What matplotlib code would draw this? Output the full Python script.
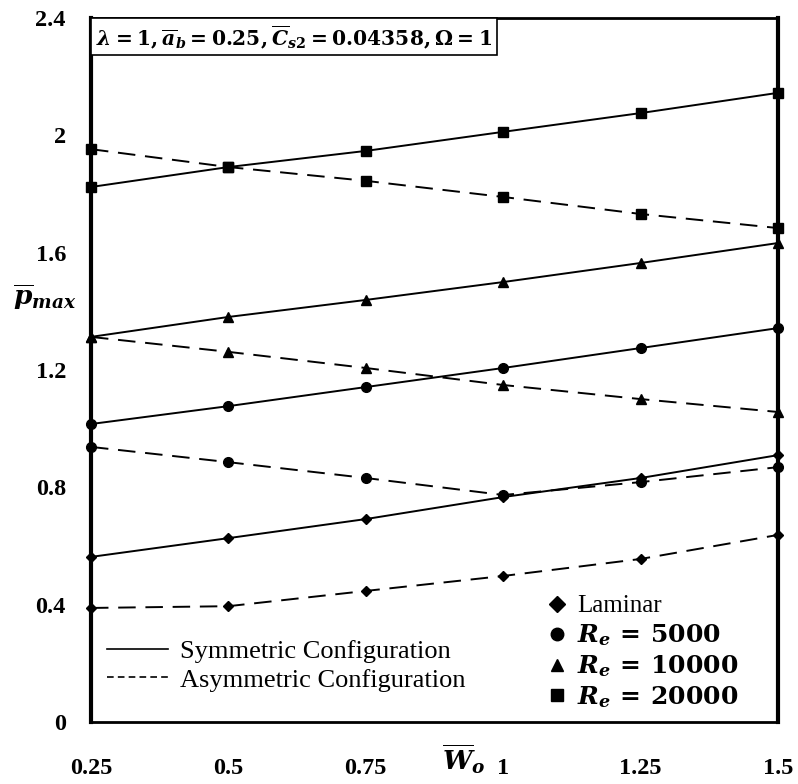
import matplotlib
matplotlib.use('Agg')
import matplotlib.pyplot as plt
from matplotlib.lines import Line2D
from matplotlib.patches import Rectangle

plt.rcParams['font.family'] = 'Liberation Serif'
plt.rcParams['mathtext.fontset'] = 'custom'
plt.rcParams['mathtext.rm'] = 'DejaVu Serif:bold'
plt.rcParams['mathtext.it'] = 'DejaVu Serif:bold:italic'
plt.rcParams['mathtext.bf'] = 'DejaVu Serif:bold'

# orifice width values
w_o = [0.25, 0.5, 0.75, 1.0, 1.25, 1.5]

# maximum pressure, symmetric configuration
lam_sym = [0.563, 0.627, 0.692, 0.767, 0.832, 0.910]
re5k_sym = [1.016, 1.077, 1.142, 1.207, 1.275, 1.343]
re10k_sym = [1.313, 1.381, 1.439, 1.500, 1.565, 1.633]
re20k_sym = [1.824, 1.892, 1.947, 2.012, 2.076, 2.145]

# maximum pressure, asymmetric configuration
lam_asym = [0.389, 0.395, 0.447, 0.498, 0.556, 0.638]
re5k_asym = [0.938, 0.886, 0.832, 0.774, 0.818, 0.869]
re10k_asym = [1.313, 1.262, 1.207, 1.149, 1.101, 1.057]
re20k_asym = [1.953, 1.892, 1.845, 1.790, 1.732, 1.684]

xticks = [0.25, 0.5, 0.75, 1.0, 1.25, 1.5]
xticklabels = ['0.25', '0.5', '0.75', '1', '1.25', '1.5']
yticks = [0, 0.4, 0.8, 1.2, 1.6, 2.0, 2.4]
yticklabels = ['0', '0.4', '0.8', '1.2', '1.6', '2', '2.4']

fig = plt.figure(figsize=(7.98, 7.84), dpi=100)
ax = fig.add_axes([0.114, 0.079, 0.861, 0.898])

dash = (0, (9, 5))
series = [
    (lam_sym, lam_asym, 'D', 5),
    (re5k_sym, re5k_asym, 'o', 7),
    (re10k_sym, re10k_asym, '^', 6.5),
    (re20k_sym, re20k_asym, 's', 7),
]
for sym, asym, mk, ms in series:
    ax.plot(w_o, sym, color='black', lw=1.4, marker=mk, ms=ms, clip_on=False, zorder=3)
    ax.plot(w_o, asym, color='black', lw=1.4, ls=dash, marker=mk, ms=ms, clip_on=False, zorder=3)

ax.set_xlim(0.25, 1.5)
ax.set_ylim(0, 2.4)
ax.set_xticks(xticks)
ax.set_xticklabels(xticklabels, fontsize=17.5, fontweight='bold')
ax.set_yticks(yticks)
ax.set_yticklabels(yticklabels, fontsize=17.5, fontweight='bold')
ax.tick_params(length=0)
ax.tick_params(axis='x', pad=26)
ax.tick_params(axis='y', pad=18)
for s in ax.spines.values():
    s.set_linewidth(2)
ax.spines['left'].set_linewidth(3)
ax.spines['right'].set_linewidth(3)

ax.set_xlabel(r'$\overline{W}_o$', fontsize=19, va='center')
ax.xaxis.set_label_coords(0.543, -0.052)
ax.set_ylabel(r'$\overline{p}_{max}$', fontsize=19, rotation=0, va='center', ha='center')
ax.yaxis.set_label_coords(-0.067, 0.604)

# parameter box in the top-left corner
ax.add_patch(Rectangle((0, 0.947), 0.591, 0.053, transform=ax.transAxes,
                       fc='white', ec='black', lw=1.2, zorder=4, clip_on=False))
ax.text(0.296, 0.973,
        r'$\lambda = 1, \overline{a}_b = 0.25, \overline{C}_{s2} = 0.04358, \Omega = 1$',
        transform=ax.transAxes, ha='center', va='center', fontsize=14.6, zorder=5)

# line style legend
style_handles = [
    Line2D([], [], color='black', lw=1.2),
    Line2D([], [], color='black', lw=1.2, ls=(0, (4, 2.5))),
]
leg1 = ax.legend(style_handles, ['Symmetric Configuration', 'Asymmetric Configuration'],
                 loc='lower left', bbox_to_anchor=(-0.003, 0.017), frameon=False,
                 fontsize=19, handlelength=2.3, handletextpad=0.45, labelspacing=0.2,
                 borderaxespad=0.3)
ax.add_artist(leg1)

# marker legend
marker_handles = [
    Line2D([], [], color='black', ls='none', marker='D', ms=8),
    Line2D([], [], color='black', ls='none', marker='o', ms=9),
    Line2D([], [], color='black', ls='none', marker='^', ms=9),
    Line2D([], [], color='black', ls='none', marker='s', ms=9),
]
ax.legend(marker_handles, ['Laminar', r'$R_e\,=\,5000$', r'$R_e\,=\,10000$', r'$R_e\,=\,20000$'],
          loc='lower right', bbox_to_anchor=(0.975, -0.015), frameon=False,
          fontsize=18, handlelength=0.8, handletextpad=0.4, labelspacing=0.2)

fig.savefig('out.png', dpi=100)
